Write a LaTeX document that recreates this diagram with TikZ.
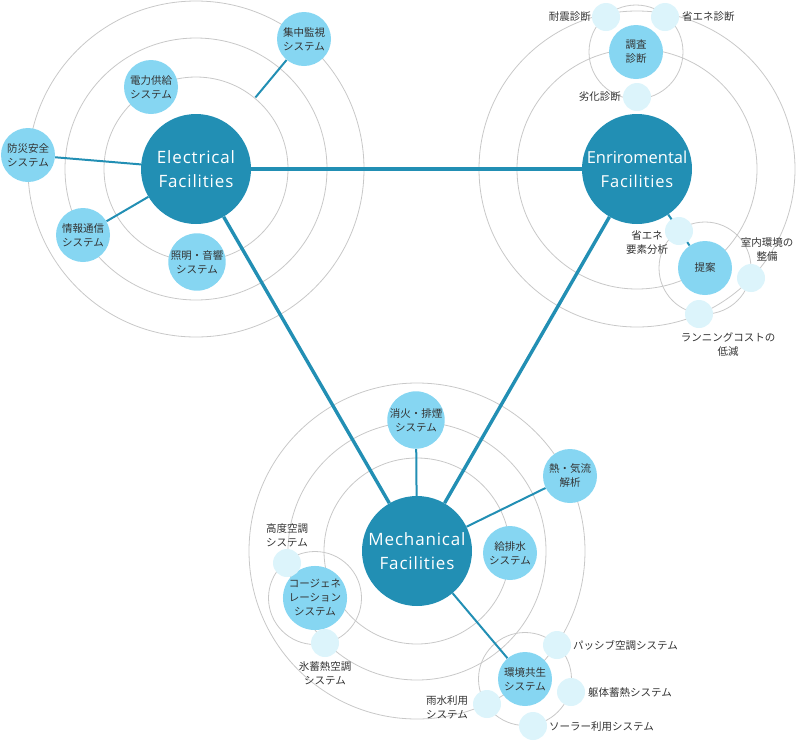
\documentclass[tikz,border=0pt]{standalone}
\usepackage{fontspec}
\setmainfont{Noto Sans CJK JP}
\newfontfamily\titlefont[LetterSpace=5]{Open Sans}
\newfontfamily\titlefontnarrow[LetterSpace=0]{Open Sans}
\usetikzlibrary{calc,backgrounds}
\definecolor{dark}{HTML}{228FB4}
\definecolor{mid}{HTML}{86D6F2}
\definecolor{pale}{HTML}{DCF4FB}
\definecolor{ringc}{HTML}{C8C8C8}
\definecolor{txt}{HTML}{333333}
\tikzset{
  big/.style={circle, fill=dark, minimum size=110pt, inner sep=0pt, text=white,
    font=\titlefont\fontsize{17}{24}\selectfont, align=center},
  sat/.style={circle, fill=mid, minimum size=54pt, inner sep=0pt, text=txt,
    font=\fontsize{10.5}{14}\selectfont, align=center},
  tinynode/.style={circle, fill=pale, minimum size=28pt, inner sep=0pt},
  lab/.style={text=txt, font=\fontsize{10.5}{14}\selectfont, align=center, inner sep=0pt},
  orbit/.style={draw=ringc, line width=0.8pt},
  trunk/.style={draw=dark, line width=3.4pt},
  spoke/.style={draw=dark, line width=2pt},
}
\begin{document}
\begin{tikzpicture}[x=1pt,y=-1pt]
\path[use as bounding box] (0,0) rectangle (796,740);

% main hubs
\node[big] (E) at (196,169) {Electrical\\Facilities};
\node[big, font=\titlefontnarrow\fontsize{16.5}{24}\selectfont] (R) at (637,169) {Enriromental\\{\titlefont Facilities}};
\node[big] (M) at (417,551) {Mechanical\\Facilities};

% Electrical satellites
\node[sat] (es1) at (304,39) {集中監視\\システム};
\node[sat] (es2) at (151,87) {電力供給\\システム};
\node[sat] (es3) at (28,155) {防災安全\\システム};
\node[sat] (es4) at (83,235) {情報通信\\システム};
\node[sat] (es5) at (197,262) {照明・音響\\システム};

% Environmental satellites
\node[sat] (rs1) at (636,52) {調査\\診断};
\node[tinynode] (rp1) at (606,17) {};
\node[tinynode] (rp2) at (665,17) {};
\node[tinynode] (rp3) at (637,97) {};
\node[lab, anchor=east] (rl1) at (591,17) {耐震診断};
\node[lab, anchor=west] (rl2) at (682,17) {省エネ診断};
\node[lab, anchor=east] (rl3) at (621,97) {劣化診断};

\node[sat] (rs2) at (705,268) {提案};
\node[tinynode] (rp4) at (679,231) {};
\node[tinynode] (rp5) at (751,278) {};
\node[tinynode] (rp6) at (699,314) {};
\node[lab] (rl4) at (647,243) {省エネ\\要素分析};
\node[lab] (rl5) at (767,250) {室内環境の\\整備};
\node[lab] (rl6) at (728,345) {ランニングコストの\\低減};

% Mechanical satellites
\node[sat] (ms1) at (416,420) {消火・排煙\\システム};
\node[sat] (ms2) at (570,476) {熱・気流\\解析};
\node[sat] (ms3) at (510,553) {給排水\\システム};
\node[sat] (ms4) at (315,598) {コージェネ\\レーション\\システム};
\node[tinynode] (mp1) at (287,563) {};
\node[tinynode] (mp2) at (325,643) {};
\node[lab] (ml1) at (287,535) {高度空調\\システム};
\node[lab] (ml2) at (325,673) {氷蓄熱空調\\システム};

\node[sat] (ms5) at (525,679) {環境共生\\システム};
\node[tinynode] (mp3) at (557,645) {};
\node[tinynode] (mp4) at (571,692) {};
\node[tinynode] (mp5) at (533,726) {};
\node[tinynode] (mp6) at (487,704) {};
\node[lab, anchor=west] (ml3) at (573,645) {パッシブ空調システム};
\node[lab, anchor=west] (ml4) at (588,692) {躯体蓄熱システム};
\node[lab, anchor=west] (ml5) at (549,727) {ソーラー利用システム};
\node[lab] (ml6) at (447,707) {雨水利用\\システム};

\coordinate (e1) at ($(E)!93pt!(es1)$);

\begin{scope}[on background layer]
  % orbits
  \foreach \r in {92,131,168} \draw[orbit] (E) circle[radius=\r];
  \foreach \r in {120,158} \draw[orbit] (R) circle[radius=\r];
  \foreach \r in {93,129,168} \draw[orbit] (M) circle[radius=\r];
  \draw[orbit] (rs1) circle[radius=47];
  \draw[orbit] (rs2) circle[radius=46];
  \draw[orbit] (ms4) circle[radius=46.5];
  \draw[orbit] (ms5) circle[radius=46.5];
  % connectors
  \draw[trunk] (E) -- (R);
  \draw[trunk] (E) -- (M);
  \draw[trunk] (R) -- (M);
  \draw[spoke] (e1) -- (es1);
  \draw[spoke] (E) -- (es3);
  \draw[spoke] (E) -- (es4);
  \draw[spoke] (R) -- (rs2);
  \draw[spoke] (M) -- (ms1);
  \draw[spoke] (M) -- (ms2);
  \draw[spoke] (M) -- (ms5);
\end{scope}
\end{tikzpicture}
\end{document}
